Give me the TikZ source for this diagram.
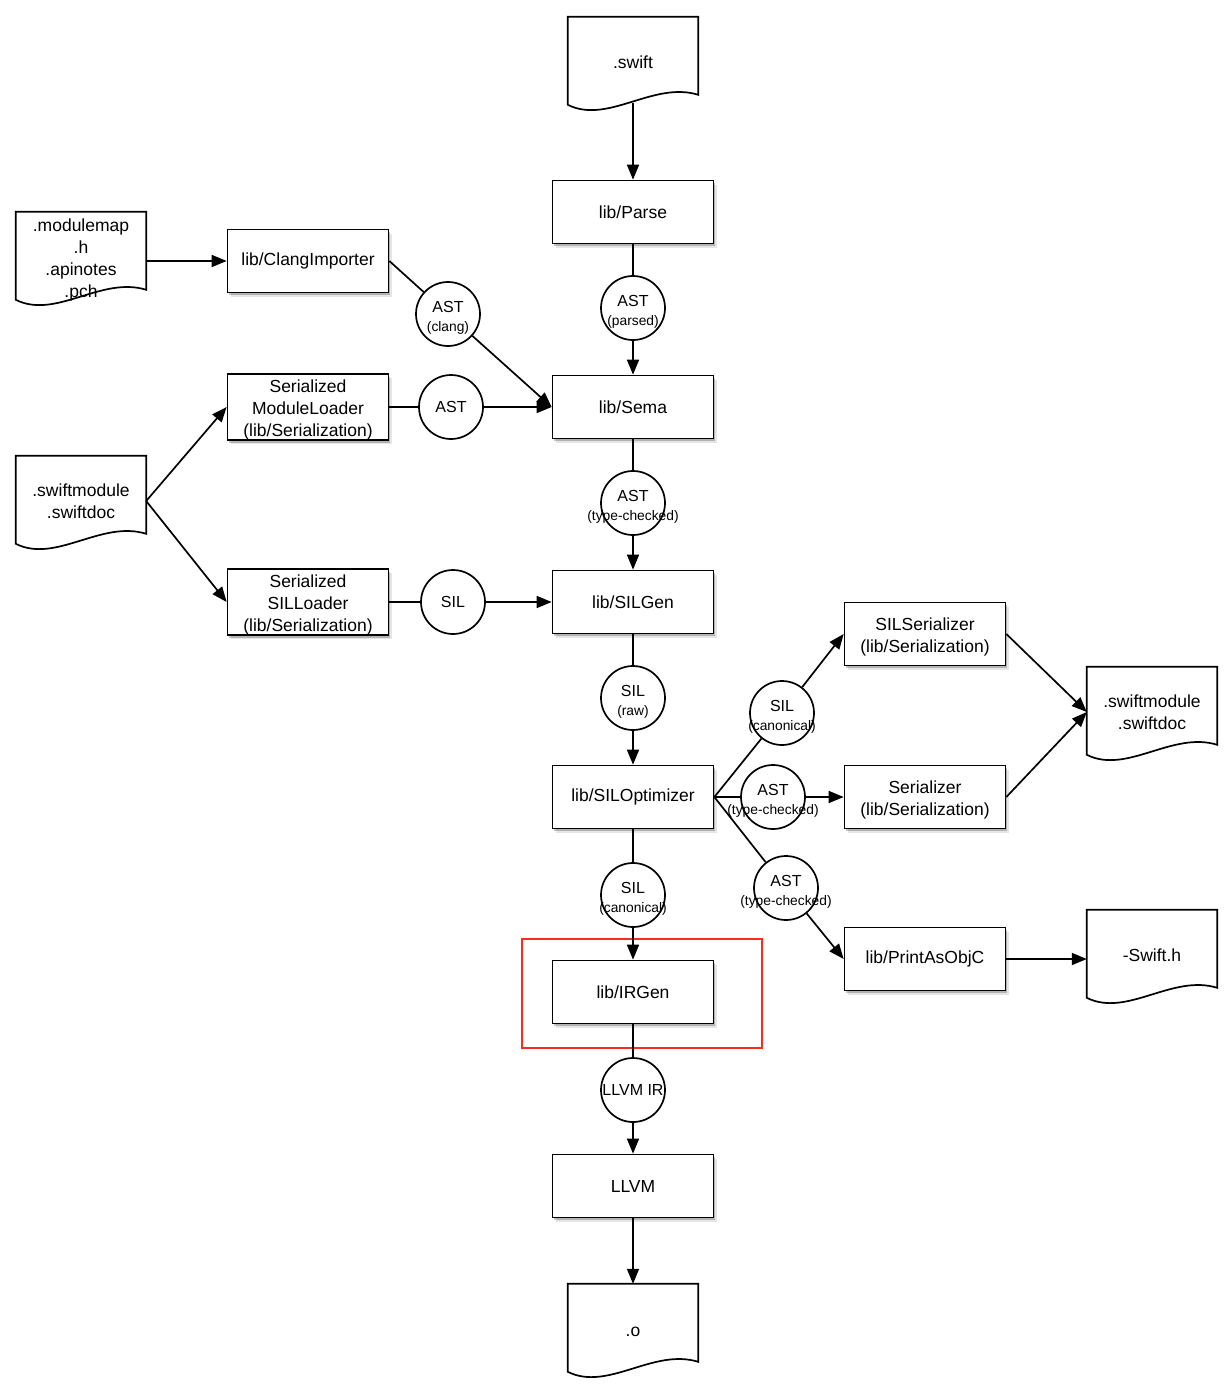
\documentclass[tikz,border=0pt]{standalone}
\usepackage{fontspec}
\setmainfont{Liberation Sans}
\usetikzlibrary{arrows.meta,shadows,backgrounds}
\definecolor{hlred}{RGB}{248,46,28}
\newcommand\zb[1]{\makebox[0pt]{\rule{0pt}{19pt}#1}}
\newcommand\zs[1]{\makebox[0pt]{\fontsize{13.8}{19}\selectfont #1}}
\newcommand\tp{\rule{0pt}{18.5pt}}
\newcommand\docshape[1]{%
  \draw[line width=1.7pt, fill=white] (#1.north west) -- (#1.north east)
    -- ([shift={(0,78)}]#1.north east)
    .. controls ([shift={(-45,64)}]#1.north east) and ([shift={(40,108)}]#1.north west)
    .. ([shift={(0,88)}]#1.north west) -- cycle;}
\begin{document}
\begin{tikzpicture}[x=1pt,y=-1pt,
  box/.style={draw, line width=1.7pt, fill=white, minimum width=161pt, minimum height=63pt,
    inner sep=0pt, align=center, font=\fontsize{17.5}{22}\selectfont,
    drop shadow={shadow xshift=3pt, shadow yshift=-4pt, fill=black, opacity=0.10},
    drop shadow={shadow xshift=1.8pt, shadow yshift=-2.6pt, fill=black, opacity=0.22}},
  circ/.style={draw, circle, line width=1.7pt, fill=white, minimum size=64pt, inner sep=0pt,
    align=center, font=\fontsize{16}{19}\selectfont},
  doc/.style={minimum width=130pt, minimum height=90pt, inner sep=0pt, align=center,
    font=\fontsize{17.5}{22}\selectfont},
  line/.style={line width=1.7pt},
  flow/.style={line width=1.7pt, -{Triangle[length=15pt,width=12pt]}},
]
\useasboundingbox (0,0) rectangle (1230,1400);

% documents (text nodes; outlines on background layer)
\node[doc] (swift)  at (633,62)   {.swift};
\node[doc] (modmap) at (81,257)   {\tp.modulemap\\.h\\.apinotes\\.pch};
\node[doc] (smod)   at (81,501)   {.swiftmodule\\.swiftdoc};
\node[doc] (smod2)  at (1152,712) {.swiftmodule\\.swiftdoc};
\node[doc] (swifth) at (1152,955) {-Swift.h};
\node[doc] (objo)   at (633,1329) {\rule{0pt}{15pt}.o};
\begin{pgfonlayer}{background}
  \docshape{swift}\docshape{modmap}\docshape{smod}
  \docshape{smod2}\docshape{swifth}\docshape{objo}
\end{pgfonlayer}

% boxes
\node[box] (parse)     at (633,212)  {lib/Parse};
\node[box] (clang)     at (308,261)  {lib/ClangImporter};
\node[box] (sema)      at (633,407)  {lib/Sema};
\node[box] (sml)       at (308,407)  {\tp Serialized\\ModuleLoader\\(lib/Serialization)};
\node[box] (silgen)    at (633,602)  {lib/SILGen};
\node[box] (ssl)       at (308,602)  {\tp Serialized\\SILLoader\\(lib/Serialization)};
\node[box] (silopt)    at (633,797)  {lib/SILOptimizer};
\node[box] (silser)    at (925,634)  {\tp SILSerializer\\(lib/Serialization)};
\node[box] (ser)       at (925,797)  {\tp Serializer\\(lib/Serialization)};
\node[box] (printobjc) at (925,959)  {lib/PrintAsObjC};
\node[box] (irgen)     at (633,992)  {lib/IRGen};
\node[box] (llvm)      at (633,1186) {LLVM};

% highlight
\node[draw=hlred, line width=1.4pt, minimum width=240pt, minimum height=109pt, inner sep=0pt] (hl) at (642,993.5) {};

% circles
\node[circ] (astp)   at (633,308)  {\zb{AST}\\\zs{(parsed)}};
\node[circ] (astc)   at (448,314)  {\zb{AST}\\\zs{(clang)}};
\node[circ] (asts)   at (451,407)  {AST};
\node[circ] (astt)   at (633,503)  {\zb{AST}\\\zs{(type-checked)}};
\node[circ] (sils)   at (453,602)  {SIL};
\node[circ] (silr)   at (633,698)  {\zb{SIL}\\\zs{(raw)}};
\node[circ] (silc1)  at (782,713)  {\zb{SIL}\\\zs{(canonical)}};
\node[circ] (astt2)  at (773,797)  {\zb{AST}\\\zs{(type-checked)}};
\node[circ] (astt3)  at (786,888)  {\zb{AST}\\\zs{(type-checked)}};
\node[circ] (silc2)  at (633,895)  {\zb{SIL}\\\zs{(canonical)}};
\node[circ] (llvmir) at (633,1090) {\makebox[0pt]{LLVM IR}};

% connectors
\draw[flow, shorten <=-4pt] (swift) -- (parse);
\draw[line] (parse) -- (astp);
\draw[flow] (astp) -- (sema);
\draw[flow] (modmap.east |- clang) -- (clang);
\draw[line] (clang.east) -- (astc);
\draw[flow] (astc) -- (sema.west);
\draw[line] (sml) -- (asts);
\draw[flow] (asts) -- (sema);
\draw[flow] (smod.east) -- (sml.west);
\draw[flow] (smod.east) -- (ssl.west);
\draw[line] (ssl) -- (sils);
\draw[flow] (sils) -- (silgen);
\draw[line] (sema) -- (astt);
\draw[flow] (astt) -- (silgen);
\draw[line] (silgen) -- (silr);
\draw[flow] (silr) -- (silopt);
\draw[line] (silopt.east) -- (silc1);
\draw[flow] (silc1) -- (silser.west);
\draw[line] (silopt.east) -- (astt2);
\draw[flow] (astt2) -- (ser);
\draw[line] (silopt.east) -- (astt3);
\draw[flow] (astt3) -- (printobjc.west);
\draw[flow] (silser.east) -- (smod2.west);
\draw[flow] (ser.east) -- (smod2.west);
\draw[flow] (printobjc) -- (printobjc -| swifth.west);
\draw[line] (silopt) -- (silc2);
\draw[flow] (silc2) -- (irgen);
\draw[line] (irgen) -- (llvmir);
\draw[flow] (llvmir) -- (llvm);
\draw[flow] (llvm) -- (objo);
\end{tikzpicture}
\end{document}
